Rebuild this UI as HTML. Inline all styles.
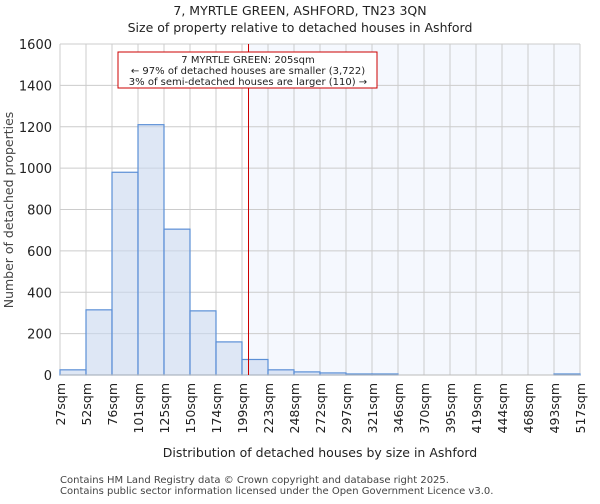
<!DOCTYPE html>
<html><head><meta charset="utf-8"><style>
body{margin:0;background:#fff;font-family:"DejaVu Sans","Liberation Sans",sans-serif;}
svg text{font-family:"DejaVu Sans","Liberation Sans",sans-serif;}
</style></head><body>
<svg id="chart" width="600" height="500" xmlns="http://www.w3.org/2000/svg">
<text x="300" y="15" text-anchor="middle" font-size="12.5" fill="#222">7, MYRTLE GREEN, ASHFORD, TN23 3QN</text>
<text x="300" y="32" text-anchor="middle" font-size="12.5" fill="#222">Size of property relative to detached houses in Ashford</text>
<g id="grid"></g><g id="bars"></g><g id="axes"></g>
<text x="320" y="457" text-anchor="middle" font-size="12.5" fill="#222">Distribution of detached houses by size in Ashford</text>
<text transform="translate(13,210) rotate(-90)" text-anchor="middle" font-size="12.5" fill="#444">Number of detached properties</text>
<text x="60" y="483" font-size="10" fill="#444">Contains HM Land Registry data © Crown copyright and database right 2025.</text>
<text x="60" y="494" font-size="10" fill="#444">Contains public sector information licensed under the Open Government Licence v3.0.</text>
</svg>
<script>
const categories=["27sqm","52sqm","76sqm","101sqm","125sqm","150sqm","174sqm","199sqm","223sqm","248sqm","272sqm","297sqm","321sqm","346sqm","370sqm","395sqm","419sqm","444sqm","468sqm","493sqm","517sqm"];
const counts=[25,315,980,1210,705,310,160,75,25,15,10,5,5,0,0,0,0,0,0,5];
const yTicks=[0,200,400,600,800,1000,1200,1400,1600];
const subjectBin=7.25;
const NS="http://www.w3.org/2000/svg";
const L=60,R=580,T=44,B=375,yMax=1600;
const bw=(R-L)/(categories.length-1);
const xs=i=>L+i*bw;
const ys=v=>B-v/yMax*(B-T);
function mk(tag,attrs,parent,txt){const e=document.createElementNS(NS,tag);for(const k in attrs)e.setAttribute(k,attrs[k]);if(txt!==undefined)e.textContent=txt;parent.appendChild(e);return e;}
const grid=document.getElementById('grid'),bars=document.getElementById('bars'),axes=document.getElementById('axes');
const px=xs(subjectBin);
const sh=mk('rect',{x:px,y:T,width:R-px,height:B-T,fill:"#f5f8fe"},grid);


yTicks.forEach(v=>{
 const g=mk('line',{x1:L,x2:R,y1:ys(v),y2:ys(v),stroke:"#ccc"},grid);
 
 
 const t=mk('text',{x:L-8,y:ys(v)+5,'text-anchor':'end','font-size':13,fill:'#222'},axes,String(v));
 
 
});
categories.forEach((c,i)=>{
 const g=mk('line',{x1:xs(i),x2:xs(i),y1:T,y2:B,stroke:"#ccc"},grid);
 
 
 const t=mk('text',{transform:`translate(${xs(i)+5},${B+8}) rotate(-90)`,'text-anchor':'end','font-size':12.5,fill:'#222'},axes,c);
 
 
});
counts.forEach((v,i)=>{
 const r=mk('rect',{x:xs(i),y:ys(v),width:bw,height:B-ys(v),fill:"rgba(200,215,238,0.6)",stroke:"#5b8fd6","stroke-width":1.2},bars);
 
 
});
const ax=mk('line',{x1:L,x2:R,y1:B,y2:B,stroke:"#bbb"},axes);


const ml=mk('line',{x1:px,x2:px,y1:T,y2:B,stroke:"#c00","stroke-width":1},axes);


const box=mk('rect',{x:118,y:52,width:259,height:36,fill:"#fff",stroke:"#c00"},axes);


[["7 MYRTLE GREEN: 205sqm",63],["← 97% of detached houses are smaller (3,722)",74],["3% of semi-detached houses are larger (110) →",85]].forEach(([s,y])=>{
 const t=mk('text',{x:248,y:y,'text-anchor':'middle','font-size':10,fill:'#222'},axes,s);
 
 
});
</script>
</body></html>
